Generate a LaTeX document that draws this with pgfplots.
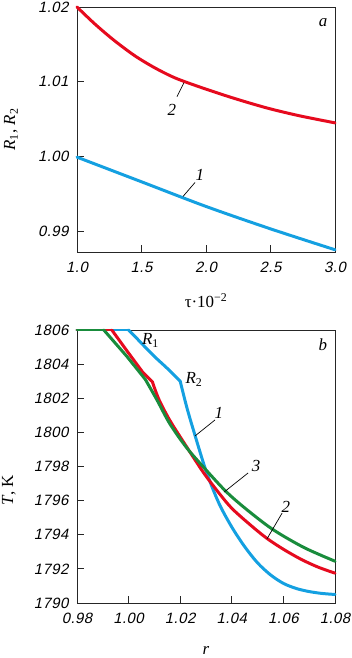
\documentclass[border=0pt]{standalone}
\usepackage{fontspec}
\setmainfont{Liberation Serif}
\newfontfamily\ticksf{Liberation Sans}[FakeSlant=0.21, LetterSpace=3]
\usepackage{pgfplots}
\pgfplotsset{compat=1.18}
\definecolor{cblue}{RGB}{20,160,225}
\definecolor{cred}{RGB}{230,10,30}
\definecolor{cgreen}{RGB}{25,140,60}
\pgfplotsset{
  myaxis/.style={
    scale only axis, width=258bp,
    tick align=inside, tick pos=left, major tick length=7bp,
    axis line style={line width=0.9pt, black!85},
    every tick/.style={black!85, line width=0.9pt},
    ticklabel style={font=\ticksf\fontsize{15}{15}\selectfont},
    /pgf/number format/assume math mode=true,
    scaled ticks=false,
    xticklabel style={yshift=-7bp},
    yticklabel style={xshift=-5bp},
    label style={font=\fontsize{17}{17}\selectfont},
    clip=false,
    every axis plot/.append style={line width=3pt, line join=round, line cap=round},
  },
}
\tikzset{
  lbl/.style={font=\fontsize{17}{17}\selectfont\itshape},
  lead/.style={line width=0.7pt, black},
}
\begin{document}
\begin{tikzpicture}
\useasboundingbox (0,0) rectangle (352bp,-658bp);
% ---------------- panel a
\begin{axis}[myaxis, at={(77bp,-252bp)}, anchor=south west, height=245bp,
  xmin=1, xmax=3, ymin=0.9872, ymax=1.02,
  xtick={1,1.5,2,2.5,3}, ytick={0.99,1.00,1.01,1.02},
  xticklabel style={/pgf/number format/fixed, /pgf/number format/fixed zerofill, /pgf/number format/precision=1},
  yticklabel style={/pgf/number format/fixed, /pgf/number format/fixed zerofill, /pgf/number format/precision=2},
  xlabel={τ·10\textsuperscript{−2}},
  ylabel={\textit{R}\textsubscript{1}, \textit{R}\textsubscript{2}},
  xlabel style={at={(axis description cs:0.5,-0.226)}, anchor=base},
  ylabel style={at={(axis description cs:-0.256,0.5)}, anchor=center},
]
\addplot[cblue, smooth] coordinates {
(1.0,0.9999) (1.5,0.9966) (2.0,0.9933) (2.5,0.9903) (3.0,0.9875)};
\addplot[cred, smooth] coordinates {
(1.0,1.0200) (1.14,1.0177) (1.29,1.0155) (1.45,1.01345) (1.6047,1.01184)
(1.7597,1.01051) (1.9535,1.00928) (2.2093,1.00782) (2.4729,1.00648)
(2.7287,1.00542) (3.0,1.00449)};
\draw[lead] (axis cs:1.775,1.0080) -- (axis cs:1.829,1.00986);
\draw[lead] (axis cs:1.822,0.99464) -- (axis cs:1.915,0.99651);
\node[lbl] at (axis cs:1.736,1.00625) {2};
\node[lbl] at (axis cs:1.953,0.99758) {1};
\node[lbl] at (axis cs:2.907,1.0179) {a};
\end{axis}
% ---------------- panel b
\begin{axis}[myaxis, at={(77bp,-603bp)}, anchor=south west, height=273bp,
  xmin=0.98, xmax=1.08, ymin=1790, ymax=1806,
  xtick={0.98,1,1.02,1.04,1.06,1.08}, ytick={1790,1792,...,1806},
  xticklabel style={/pgf/number format/fixed, /pgf/number format/fixed zerofill, /pgf/number format/precision=2},
  yticklabel style={/pgf/number format/1000 sep={}},
  xlabel={\textit{r}},
  ylabel={\textit{T}, K},
  xlabel style={at={(axis description cs:0.5,-0.19)}, anchor=base},
  ylabel style={at={(axis description cs:-0.264,0.414)}, anchor=center},
]
% curve 1 (blue)
\addplot[cblue] coordinates {(0.98,1806) (1.000,1806)};
\addplot[cblue, smooth] coordinates {
(1.000,1806) (1.0025,1805.62) (1.005,1805.22) (1.010,1804.45) (1.015,1803.75) (1.020,1803.0)};
\addplot[cblue, smooth] coordinates {
(1.020,1803.0) (1.0225,1801.5) (1.025,1800.2) (1.030,1797.75)
(1.035,1795.85) (1.040,1794.45) (1.045,1793.3) (1.050,1792.35)
(1.055,1791.65) (1.060,1791.15) (1.065,1790.85) (1.070,1790.67) (1.075,1790.56)
(1.080,1790.5)};
% curve 2 (red)
\addplot[cred] coordinates {(0.98,1806) (0.9935,1806)};
\addplot[cred] coordinates {(0.9935,1806) (0.9995,1804.75) (1.0056,1803.5) (1.0092,1802.97)};
\addplot[cred, smooth] coordinates {
(1.0092,1802.97) (1.0117,1801.95) (1.016,1800.7) (1.0225,1799.15) (1.029,1797.65) (1.035,1796.45)
(1.040,1795.55) (1.047,1794.6) (1.0535,1793.8) (1.060,1793.15) (1.067,1792.55)
(1.0735,1792.1) (1.080,1791.75)};
% curve 3 (green)
\addplot[cgreen] coordinates {(0.98,1806) (0.9904,1806)};
\addplot[cgreen] coordinates {(0.9904,1806) (0.9994,1804.44) (1.0065,1803.1)};
\addplot[cgreen, smooth] coordinates {
(1.0065,1803.1) (1.011,1801.9) (1.016,1800.5) (1.0225,1799.1) (1.030,1797.8) (1.038,1796.5) (1.046,1795.45)
(1.056,1794.3) (1.068,1793.25) (1.080,1792.45)};
\draw[lead] (axis cs:1.02574,1799.79) -- (axis cs:1.0335,1800.73);
\draw[lead] (axis cs:1.037,1796.5) -- (axis cs:1.0463,1797.62);
\draw[lead] (axis cs:1.0536,1793.75) -- (axis cs:1.0595,1795.27);
\node[lbl] at (axis cs:1.035,1801.14) {1};
\node[lbl] at (axis cs:1.0494,1798.03) {3};
\node[lbl] at (axis cs:1.061,1795.63) {2};
\node[lbl] at (axis cs:1.0085,1805.4) {\textit{R}\textsubscript{\upshape 1}};
\node[lbl] at (axis cs:1.02535,1803.1) {\textit{R}\textsubscript{\upshape 2}};
\node[lbl] at (axis cs:1.0753,1805.12) {b};
\end{axis}
\end{tikzpicture}
\end{document}
